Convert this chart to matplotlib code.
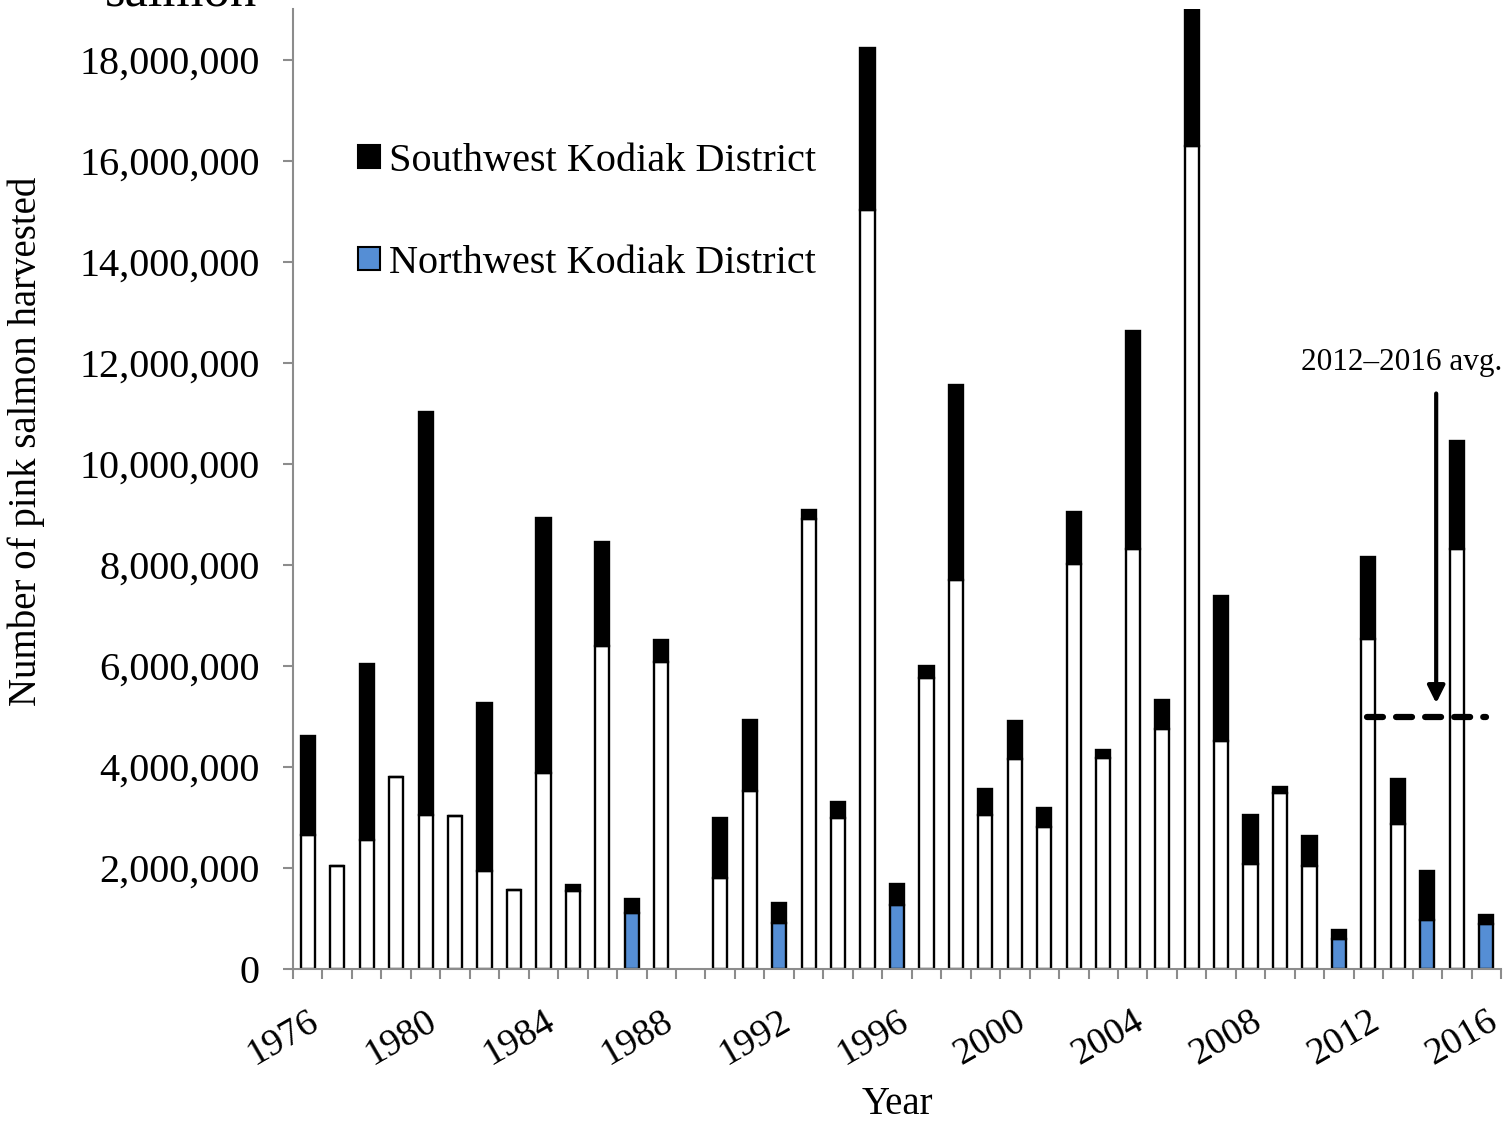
import matplotlib
matplotlib.use("Agg")
import matplotlib.pyplot as plt
import matplotlib.patches as mpatches
from matplotlib.ticker import FuncFormatter, FixedLocator
import numpy as np

plt.rcParams["font.family"] = ["Liberation Serif", "DejaVu Serif"]

# harvest data (number of fish)
years = list(range(1976, 2017))
total = [4.61e6, 2.04e6, 6.03e6, 3.80e6, 11.02e6, 3.03e6, 5.27e6, 1.56e6, 8.93e6, 1.67e6,
         8.45e6, 1.38e6, 6.52e6, 0.0, 2.98e6, 4.93e6, 1.30e6, 9.08e6, 3.30e6, 18.23e6,
         1.69e6, 6.00e6, 11.55e6, 3.57e6, 4.90e6, 3.18e6, 9.04e6, 4.33e6, 12.62e6, 5.32e6,
         19.40e6, 7.38e6, 3.05e6, 3.60e6, 2.64e6, 0.77e6, 8.16e6, 3.76e6, 1.94e6, 10.45e6,
         1.07e6]
lower = [2.65e6, 2.04e6, 2.55e6, 3.80e6, 3.05e6, 3.03e6, 1.94e6, 1.56e6, 3.88e6, 1.55e6,
         6.39e6, 1.10e6, 6.07e6, 0.0, 1.80e6, 3.53e6, 0.92e6, 8.90e6, 2.98e6, 15.03e6,
         1.27e6, 5.75e6, 7.70e6, 3.05e6, 4.15e6, 2.82e6, 8.02e6, 4.18e6, 8.32e6, 4.75e6,
         16.29e6, 4.52e6, 2.08e6, 3.48e6, 2.04e6, 0.59e6, 6.53e6, 2.86e6, 0.97e6, 8.32e6,
         0.90e6]
blue_years = [1987, 1992, 1996, 2011, 2014, 2016]
avg_2012_2016 = 4.98e6
tick_years = years[::4]

years = np.array(years)
total = np.array(total)
lower = np.array(lower)
upper = total - lower

blue = "#558ed5"
grey = "#8c8c8c"

# no harvest in 1989 -> leave the slot empty
has = total > 0
yrs = years[has]
low_colors = [blue if y in blue_years else "white" for y in yrs]

fig = plt.figure(figsize=(15.06, 11.21), dpi=100)
ax = fig.add_axes([293 / 1506, 1 - 969 / 1121, 1208 / 1506, 960 / 1121])

ax.bar(yrs, lower[has], width=0.48, color=low_colors, edgecolor="black", linewidth=1.7, zorder=2)
ax.bar(yrs, upper[has], bottom=lower[has], width=0.48, color="black", edgecolor="black",
       linewidth=1.7, zorder=2)

ax.set_xlim(1975.5, 2016.5)
ax.set_ylim(0, 19.0e6)

# axes styling
for s in ["top", "right"]:
    ax.spines[s].set_visible(False)
for s in ["left", "bottom"]:
    ax.spines[s].set_color(grey)
    ax.spines[s].set_linewidth(1.5)

ax.set_yticks(np.arange(0, 18.1e6, 2e6))
ax.yaxis.set_major_formatter(FuncFormatter(lambda v, p: f"{v:,.0f}"))
ax.tick_params(axis="y", length=7, width=1.5, color=grey, pad=17, labelsize=29)

ax.set_xticks(tick_years)
ax.set_xticklabels([str(y) for y in tick_years])
ax.xaxis.set_minor_locator(FixedLocator(np.arange(1975.5, 2017, 1)))
ax.tick_params(axis="x", which="major", length=0, pad=25, labelsize=27.5)
ax.tick_params(axis="x", which="minor", length=7, width=1.5, color=grey)
for lbl in ax.get_xticklabels():
    lbl.set_rotation(30)
    lbl.set_ha("right")
    lbl.set_rotation_mode("anchor")

ax.set_ylabel("Number of pink salmon harvested", fontsize=28)
ax.yaxis.set_label_coords(-0.205, 0.55)
ax.set_xlabel("Year", fontsize=28, va="top")
ax.xaxis.set_label_coords(0.5, -0.122)

# legend
handles = [mpatches.Patch(facecolor="black", edgecolor="black", linewidth=1.5),
           mpatches.Patch(facecolor=blue, edgecolor="black", linewidth=1.5)]
ax.legend(handles, ["Southwest Kodiak District", "Northwest Kodiak District"],
          loc="upper left", bbox_to_anchor=(358 / 1506, 1 - 143 / 1121),
          bbox_transform=fig.transFigure, frameon=False, fontsize=29,
          borderpad=0, borderaxespad=0, handlelength=0.55, handleheight=0.5,
          handletextpad=0.22, labelspacing=1.62)

# 2012-2016 average line and arrow
ax.plot([2011.95, 2016.0], [avg_2012_2016, avg_2012_2016], color="black", lw=4.5,
        dashes=(2.55, 2.1), dash_capstyle="round", zorder=3, clip_on=False)
ax.annotate("", xy=(2014.3, 5.26e6), xytext=(2014.3, 11.39e6),
            arrowprops=dict(arrowstyle="-|>", color="black", lw=3, mutation_scale=26,
                            shrinkA=0, shrinkB=0), zorder=4)
ax.text(2013.13, 11.85e6, "2012\u20132016 avg.", fontsize=22.5, ha="center",
        va="baseline", clip_on=False)

# title cut off at the top of the figure
fig.text(105 / 1506, 1 - 5 / 1121, "salmon", fontsize=38, va="baseline")

fig.savefig("out.png", dpi=100)
